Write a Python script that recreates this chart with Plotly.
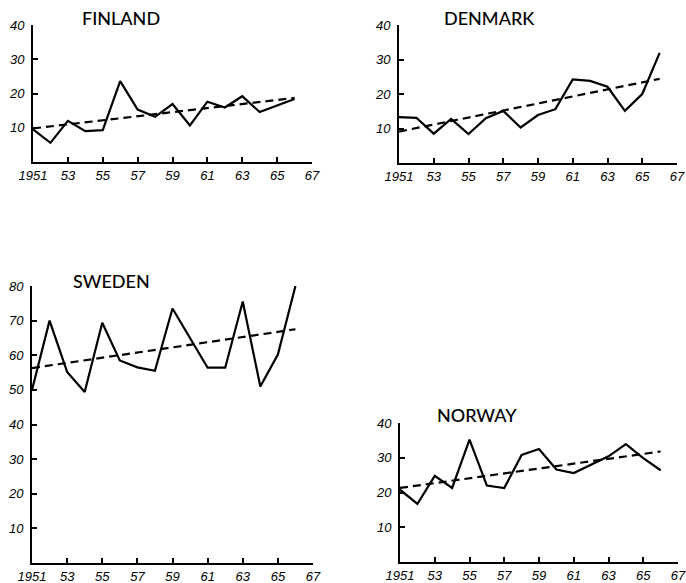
import plotly.graph_objects as go

years = list(range(1951, 1967))

finland = [9.5, 5.6, 12.0, 9.0, 9.3, 23.6, 15.3, 13.2, 16.9, 10.7, 17.6, 15.9, 19.2, 14.6, 16.5, 18.4]
denmark = [13.3, 13.1, 8.5, 12.8, 8.4, 13.0, 15.1, 10.3, 13.9, 15.6, 24.2, 23.8, 22.1, 15.1, 20.0, 31.9]
sweden = [50.0, 70.0, 55.2, 49.4, 69.4, 58.5, 56.5, 55.5, 73.5, 64.8, 56.4, 56.4, 75.5, 51.0, 60.2, 80.0]
norway = [20.8, 16.7, 24.8, 21.3, 35.2, 22.0, 21.3, 30.8, 32.5, 26.6, 25.6, 28.0, 30.4, 33.9, 29.9, 26.4]

trend_years = [1951, 1966]
finland_trend = [9.8, 18.7]
denmark_trend = [9.1, 24.4]
sweden_trend = [56.3, 67.5]
norway_trend = [21.3, 31.8]

x_ticks = list(range(1951, 1968, 2))
x_labels = ["1951", "53", "55", "57", "59", "61", "63", "65", "67"]

W, H = 686, 583

panels = [
    ("FINLAND", finland, finland_trend, [10, 20, 30, 40], 40, (33, 312, 25, 162), (121, 18)),
    ("DENMARK", denmark, denmark_trend, [10, 20, 30, 40], 40, (399, 677, 25, 163), (489, 18)),
    ("SWEDEN", sweden, sweden_trend, [10, 20, 30, 40, 50, 60, 70, 80], 80, (32, 313, 286, 563), (111, 281)),
    ("NORWAY", norway, norway_trend, [10, 20, 30, 40], 40, (400, 678, 423, 562), (477, 415)),
]

fig = go.Figure()
layout = dict(
    width=W, height=H, margin=dict(l=0, r=0, t=0, b=0, pad=0),
    paper_bgcolor="white", plot_bgcolor="rgba(0,0,0,0)", showlegend=False,
    annotations=[],
)

tickfont = dict(family="Liberation Sans", size=13, color="black", style="italic")

for i, (name, vals, trend, yt, ymax, box, tpos) in enumerate(panels):
    n = "" if i == 0 else str(i + 1)
    x0, x1, yt_px, yb_px = box
    xa = "x" + n
    ya = "y" + n
    fig.add_trace(go.Scatter(x=years, y=vals, mode="lines", xaxis=xa, yaxis=ya,
                             line=dict(color="black", width=2.2), cliponaxis=False))
    fig.add_trace(go.Scatter(x=trend_years, y=trend, mode="lines", xaxis=xa, yaxis=ya,
                             line=dict(color="black", width=2.2, dash="8px,5px"), cliponaxis=False))
    layout["xaxis" + n] = dict(
        domain=[x0 / W, x1 / W], anchor=ya, range=[1951, 1967], automargin=False,
        tickvals=x_ticks, ticktext=x_labels, ticks="inside", ticklen=5, tickwidth=1.5,
        tickcolor="black", showline=True, linecolor="black", linewidth=2,
        showgrid=False, zeroline=False, tickfont=tickfont, fixedrange=True,
    )
    layout["yaxis" + n] = dict(
        domain=[1 - yb_px / H, 1 - yt_px / H], anchor=xa, range=[0, ymax], automargin=False,
        tickvals=yt, ticktext=[str(v) for v in yt], ticks="inside", ticklen=5, tickwidth=1.5,
        tickcolor="black", showline=True, linecolor="black", linewidth=2,
        showgrid=False, zeroline=False, tickfont=tickfont, fixedrange=True,
        ticklabelstandoff=4,
    )
    layout["annotations"].append(dict(
        text=name, x=tpos[0] / W, y=1 - tpos[1] / H, xref="paper", yref="paper",
        showarrow=False, xanchor="center", yanchor="middle",
        font=dict(family="Lato", size=18, color="black", weight=500),
    ))

fig.update_layout(**layout)
fig.write_html("out.html", config={"displayModeBar": False},
               post_script="document.body.style.margin='0';document.body.style.overflow='hidden';")
